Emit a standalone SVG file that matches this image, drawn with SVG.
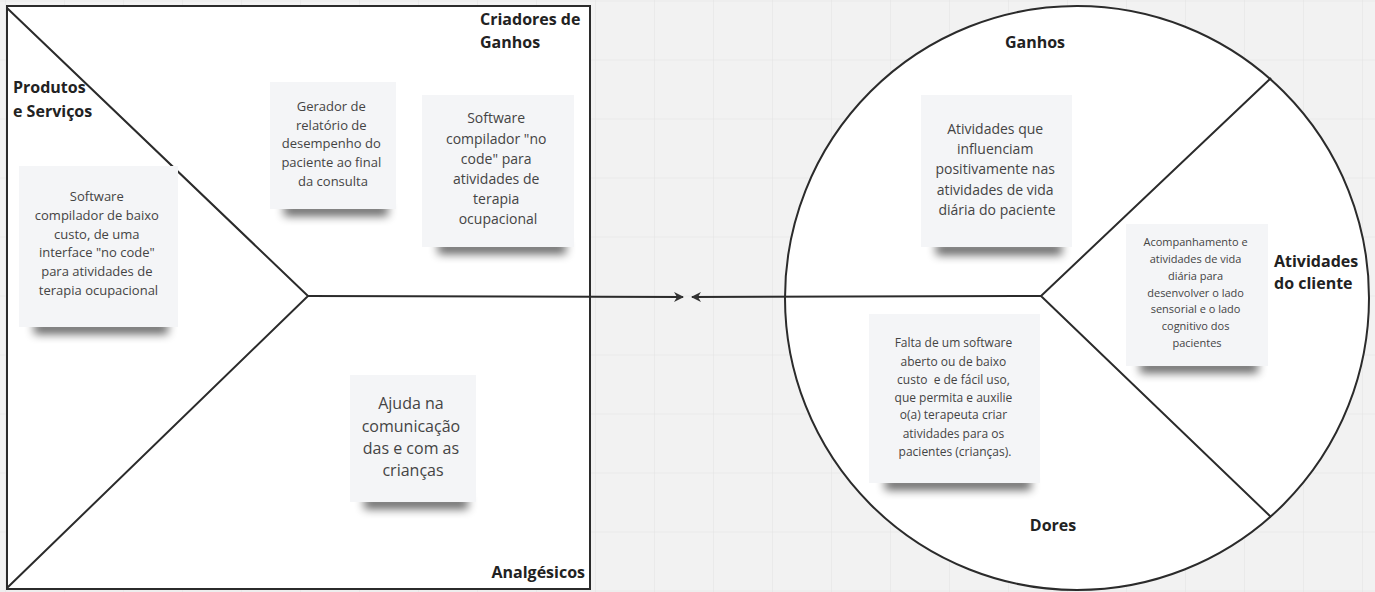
<svg xmlns="http://www.w3.org/2000/svg" width="1375" height="592" viewBox="0 0 1375 592">
<defs>
<pattern id="grid" x="5" y="0.5" width="59" height="59" patternUnits="userSpaceOnUse">
<path d="M0,0 H59 M0,0 V59" fill="none" stroke="#e4e4e4" stroke-width="1.2"/>
</pattern>
<filter id="shadow" x="-20%" y="-200%" width="140%" height="500%">
<feGaussianBlur stdDeviation="5"/>
</filter>
<marker id="arrow" viewBox="0 0 10 10" refX="9" refY="5" markerWidth="10" markerHeight="10" markerUnits="userSpaceOnUse" orient="auto">
<path d="M0,0 L10,5 L0,10 L3,5 Z" fill="#333"/>
</marker>
<style>
.title{font-family:"Open Sans","Noto Sans",sans-serif;font-weight:bold;font-size:16px;fill:#222;}
.note{fill:#f4f5f7;}
.shadow{fill:#000;opacity:0.6;filter:url(#shadow);}
.t{font-family:"Open Sans","Noto Sans",sans-serif;fill:#444;text-anchor:middle;}
.shape{fill:#fff;stroke:#2b2b2b;stroke-width:2;}
.line{fill:none;stroke:#2b2b2b;stroke-width:2;}
</style>
</defs>
<rect x="0" y="0" width="1375" height="592" fill="#f2f2f2"/>
<rect x="0" y="0" width="1375" height="592" fill="url(#grid)"/>

<g id="left-square">
<rect class="shape" x="7" y="6" width="583" height="583"/>
<path class="line" d="M7,8 L308,296 L7,588"/>
<text class="title" x="480" y="25">Criadores de</text>
<text class="title" x="480" y="48">Ganhos</text>
<text class="title" x="13" y="93">Produtos</text>
<text class="title" x="13" y="117">e Serviços</text>
<text class="title" x="585" y="578" text-anchor="end">Analgésicos</text>
</g>

<g id="right-circle">
<circle class="shape" cx="1077" cy="298" r="292"/>
<path class="line" d="M1271,78 L1041,296 L1271,517"/>
<text class="title" x="1035" y="48" text-anchor="middle">Ganhos</text>
<text class="title" x="1274" y="267">Atividades</text>
<text class="title" x="1274" y="289">do cliente</text>
<text class="title" x="1053" y="531" text-anchor="middle">Dores</text>
</g>

<g id="connectors">
<path class="line" d="M308,296 L683,297" marker-end="url(#arrow)"/>
<path class="line" d="M1041,296 L692,297" marker-end="url(#arrow)"/>
</g>

<g id="note-gerador">
<rect class="shadow" x="284" y="204" width="104" height="12"/>
<rect class="note" x="270" y="82" width="126" height="127"/>
<text class="t" font-size="13">
<tspan x="333" y="111">Gerador de</tspan>
<tspan x="333" y="129.5">relatório de</tspan>
<tspan x="333" y="148">desempenho do</tspan>
<tspan x="333" y="167">paciente ao final</tspan>
<tspan x="333" y="186">da consulta</tspan>
</text>
</g>

<g id="note-software-nocode">
<rect class="shadow" x="438" y="242" width="128" height="12"/>
<rect class="note" x="422" y="95" width="152" height="152"/>
<text class="t" font-size="14">
<tspan x="498" y="123">Software</tspan>
<tspan x="498" y="144">compilador "no</tspan>
<tspan x="498" y="164">code" para</tspan>
<tspan x="498" y="184">atividades de</tspan>
<tspan x="498" y="204">terapia</tspan>
<tspan x="498" y="224">ocupacional</tspan>
</text>
</g>

<g id="note-software-baixo">
<rect class="shadow" x="34" y="322" width="134" height="12"/>
<rect class="note" x="19" y="166" width="159" height="161"/>
<text class="t" font-size="13">
<tspan x="98.5" y="200.5">Software</tspan>
<tspan x="98.5" y="219.5">compilador de baixo</tspan>
<tspan x="98.5" y="238.5">custo, de uma</tspan>
<tspan x="98.5" y="257">interface "no code"</tspan>
<tspan x="98.5" y="275.5">para atividades de</tspan>
<tspan x="98.5" y="294.5">terapia ocupacional</tspan>
</text>
</g>

<g id="note-ajuda">
<rect class="shadow" x="364" y="497" width="104" height="12"/>
<rect class="note" x="350" y="375" width="126" height="127"/>
<text class="t" font-size="16">
<tspan x="413" y="409">Ajuda na</tspan>
<tspan x="413" y="431.5">comunicação</tspan>
<tspan x="413" y="453.5">das e com as</tspan>
<tspan x="413" y="475.5">crianças</tspan>
</text>
</g>

<g id="note-atividades-ganhos">
<rect class="shadow" x="936" y="243" width="126" height="12"/>
<rect class="note" x="921" y="95" width="151" height="152"/>
<text class="t" font-size="14">
<tspan x="997" y="134">Atividades que</tspan>
<tspan x="997" y="154">influenciam</tspan>
<tspan x="997" y="174">positivamente nas</tspan>
<tspan x="997" y="195">atividades de vida</tspan>
<tspan x="997" y="215">diária do paciente</tspan>
</text>
</g>

<g id="note-acompanhamento">
<rect class="shadow" x="1140" y="361" width="118" height="12"/>
<rect class="note" x="1126" y="224" width="142" height="142"/>
<text class="t" font-size="11">
<tspan x="1197" y="246">Acompanhamento e</tspan>
<tspan x="1197" y="263">atividades de vida</tspan>
<tspan x="1197" y="280">diária para</tspan>
<tspan x="1197" y="297">desenvolver o lado</tspan>
<tspan x="1197" y="313">sensorial e o lado</tspan>
<tspan x="1197" y="330">cognitivo dos</tspan>
<tspan x="1197" y="347">pacientes</tspan>
</text>
</g>

<g id="note-falta">
<rect class="shadow" x="885" y="478" width="146" height="12"/>
<rect class="note" x="869" y="314" width="171" height="169"/>
<text class="t" font-size="12">
<tspan x="955" y="346.5">Falta de um software</tspan>
<tspan x="955" y="365.5">aberto ou de baixo</tspan>
<tspan x="955" y="383.5" xml:space="preserve">custo  e de fácil uso,</tspan>
<tspan x="955" y="401.5">que permita e auxilie</tspan>
<tspan x="955" y="418.5">o(a) terapeuta criar</tspan>
<tspan x="955" y="437.5">atividades para os</tspan>
<tspan x="955" y="455.5">pacientes (crianças).</tspan>
</text>
</g>
</svg>
